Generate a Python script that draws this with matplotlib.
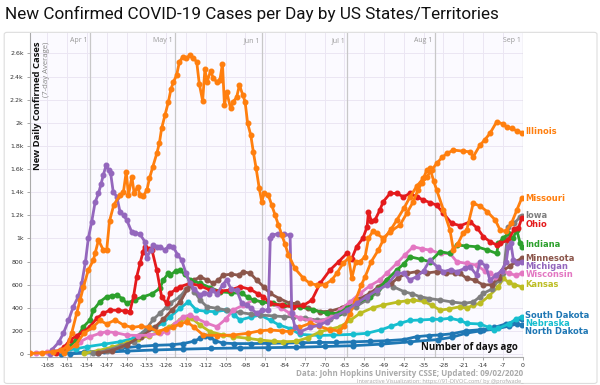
import matplotlib
matplotlib.use("Agg")
import matplotlib.pyplot as plt
from matplotlib.patches import FancyBboxPatch

# ---------------- data (days ago, 7-day avg new cases) ----------------
il_d = [-174, -170, -166, -163, -161, -159.4, -157.6, -156.4, -155.2, -153.5, -151.7, -151.1, -149.9, -148.2, -147,
        -146, -144.5, -142.3, -141.1, -140.1, -139.3, -138.1, -137.3, -136.1, -135.2, -134, -132.8, -131.9, -130.7,
        -129.3, -128.4, -127.6, -126.4, -125.2, -124.3, -123.4, -122.3, -121.3, -120.1, -118.9, -117.6, -116.4,
        -115.2, -114.3, -113.1, -112.3, -111.5, -110.3, -109.3, -108.1, -107, -106.1, -105.4, -104.6, -103.2,
        -102.3, -101.1, -100.1, -98.9, -98.1, -97.2, -96.1, -95.2, -94.2, -93.1, -92.2, -91.4, -89.9, -88.7, -87.5,
        -86.3, -85.1, -84, -82.8, -80.5, -77.5, -75.2, -72.8, -70, -67.5, -65.7, -63.5, -61.5, -60.4, -59, -57.5,
        -55.7, -54.5, -53, -51.6, -49.3, -46.9, -43.4, -41, -38.7, -37, -35.7, -33.9, -32.2, -30.4, -28.5, -26.8,
        -24.5, -21, -18.6, -17.5, -15.1, -13.5, -11.6, -9.2, -7, -5.5, -3.9, -2, -0.4]
il_v = [5, 10, 20, 35, 63, 179, 352, 467, 582, 726, 813, 870, 986, 899, 900,
        1150, 1290, 1375, 1400, 1577, 1375, 1533, 1390, 1447, 1375, 1369, 1418, 1519, 1620,
        1735, 1822, 1951, 2067, 2182, 2290, 2355, 2412, 2528, 2571, 2557, 2585, 2560,
        2528, 2340, 2190, 2462, 2355, 2450, 2384, 2355, 2370, 2513, 2153, 2268, 2124,
        2182, 2220, 2326, 2240, 2182, 1995, 1894, 1749, 1606, 1433, 1317, 1389, 1375, 1288, 1202,
        1115, 1029, 950, 860, 740, 655, 611, 597, 600, 640, 698, 784, 830, 655, 800, 800,
        841, 1000, 1060, 1043, 1000, 1058, 1115, 1216, 1317, 1420, 1480, 1533, 1591, 1649, 1700, 1735,
        1764, 1755, 1749, 1706, 1807, 1850, 1908, 2009, 1990, 1960, 1951, 1930, 1914]

mo_d = [-162, -158, -155, -152, -149.4, -147, -144, -141, -138, -135, -132, -128.9, -126, -123.5, -121, -118.7,
        -116, -112.9, -108, -102.3, -97, -93, -89.3, -85, -82.2, -79, -75.2, -72, -68, -65, -63, -61, -59, -57,
        -55.7, -53.5, -51, -49.3, -46.5, -44.5, -42, -39.8, -37.5, -35.1, -33.9, -32.8, -31.5, -30.4, -28, -25.7,
        -24.5, -23, -21, -19.8, -17.5, -15, -12.5, -9.7, -8, -6, -4, -2, -0.4]
mo_v = [10, 80, 180, 230, 290, 260, 294, 250, 230, 240, 230, 193, 220, 236, 260, 279,
        230, 164, 160, 164, 180, 200, 208, 200, 193, 230, 265, 240, 210, 200, 240, 350, 470, 600,
        668, 800, 900, 986, 1080, 1159, 1260, 1360, 1450, 1520, 1591, 1606, 1500, 1418, 1245, 1072,
        899, 950, 1050, 1072, 1303, 1280, 1230, 1159, 1072, 1060, 1130, 1250, 1346]

mi_d = [-167, -166.4, -164, -162.3, -160.5, -158.8, -157, -155.8, -154.5, -153.5, -152.3, -151.1, -149.9, -149,
        -148.2, -147.2, -146.3, -145.6, -144.7, -143.4, -142.3, -141, -139.9, -138.2, -137, -135.2, -133.5, -132.9,
        -131.5, -130.5, -129.3, -128.2, -126.5, -125, -123.5, -122, -120.5, -119, -117.6, -116, -114, -112.5, -111,
        -109.9, -108, -106, -104.6, -103, -101, -99.3, -97.5, -96, -94, -92, -89.9, -89.2, -88.7, -86.5, -84.5,
        -82.2, -81.6, -80.5, -78.7, -75, -72, -69.3, -66, -62.2, -58.7, -55.1, -51.5, -48.1, -44.5, -42, -40,
        -37.5, -35, -32.8, -30, -28, -25.5, -23.3, -20.5, -18.6, -16.3, -15.1, -13, -11.6, -9.5, -7.5, -5.8, -5.1,
        -4.2, -3.3, -2, -0.4]
mi_v = [0, 35, 100, 179, 290, 409, 500, 611, 800, 1000, 1144, 1312, 1389, 1470,
        1548, 1634, 1590, 1562, 1403, 1360, 1230, 1200, 1159, 1058, 1050, 1035, 971, 827,
        900, 943, 930, 928, 900, 935, 928, 860, 813, 700, 611, 560, 510, 530, 520,
        553, 520, 600, 640, 560, 550, 438, 420, 395, 352, 380, 380, 1000, 1029, 1040, 1035,
        1029, 352, 236, 193, 230, 250, 279, 330, 380, 438, 496, 550, 597, 698, 700, 640,
        668, 720, 813, 750, 712, 730, 712, 740, 755, 683, 798, 760, 640, 680, 720, 800, 928,
        960, 813, 790, 798]

in_d = [-162, -158, -155.2, -152.9, -151.7, -149.4, -147, -145, -143.5, -141.5, -140, -137, -134, -131, -128.2,
        -127, -125.2, -124.6, -122.5, -121.1, -119.5, -117.6, -114, -110.5, -106.9, -103, -99.3, -97, -95.1, -92,
        -88.1, -84.5, -81, -78.7, -74, -69.3, -65, -62, -58.7, -54, -51, -48.1, -44.5, -42, -39.8, -36, -32.8,
        -29.2, -25.7, -23.3, -20, -16.3, -12.5, -9.2, -8.6, -7, -5.1, -3.5, -2.1, -0.9, -0.3]
in_v = [20, 120, 236, 294, 380, 452, 496, 505, 510, 480, 438, 470, 496, 520, 568,
        640, 698, 683, 720, 726, 690, 640, 611, 575, 539, 530, 525, 490, 467, 450,
        438, 420, 409, 409, 380, 352, 352, 400, 438, 496, 560, 640, 726, 780, 841, 820, 798,
        885, 870, 943, 935, 928, 900, 870, 957, 1000, 1043, 1000, 1072, 957, 928]

oh_d = [-165, -162, -160, -157.5, -155.2, -152.9, -150.5, -148.2, -145.8, -143, -140.5, -138.8, -137.5, -136.4,
        -135.2, -134.2, -133.5, -132.2, -131, -129.3, -127.6, -125.8, -124.6, -122.5, -121.1, -117.6, -114, -110.5,
        -107, -103.4, -99.9, -96.3, -93.5, -91.6, -89.3, -85, -81, -77.5, -74.5, -71.6, -68.1, -65, -62.2, -60.5,
        -58.7, -56.5, -55, -54.5, -53.5, -52.2, -50.5, -49.3, -46.9, -44.5, -42.2, -39.8, -37.5, -35.1, -32.8,
        -30.4, -28, -25.1, -22, -18.6, -16, -13.9, -11.5, -9.2, -8, -5.1, -3, -1.5, -0.4]
oh_v = [10, 60, 121, 160, 193, 236, 309, 352, 380, 378, 372, 366, 500, 668,
        784, 880, 928, 910, 899, 726, 496, 438, 525, 560, 582, 611, 590, 553,
        545, 553, 582, 560, 520, 496, 438, 420, 409, 420, 467, 611, 726, 800, 870, 820,
        928, 1000, 1100, 1230, 1150, 1159, 1245, 1317, 1389, 1390, 1360, 1389, 1360, 1332, 1310,
        1288, 1216, 1130, 1110, 1144, 1087, 1014, 971, 943, 957, 986, 1080, 1090, 1173]

ia_d = [-152, -147, -142, -137.5, -135.2, -132.9, -130.5, -128.2, -125.8, -124.6, -121.1, -119, -117.6, -116, -114,
        -111.6, -108, -104.6, -100, -96, -92.8, -88, -84.5, -81, -77, -72.8, -68, -63.3, -59, -55.1, -51.5, -48.1,
        -45.7, -42, -39, -36.3, -33, -29.2, -25, -20.9, -17.5, -15.1, -13.9, -11, -8.5, -6.8, -5.1, -3, -0.9, -0.3]
ia_v = [5, 30, 70, 106, 164, 222, 300, 352, 409, 438, 496, 560, 597, 540, 467,
        409, 395, 380, 360, 345, 337, 330, 323, 323, 310, 294, 300, 352, 410, 467, 530, 611,
        582, 540, 520, 496, 480, 467, 450, 438, 450, 496, 525, 560, 640, 698, 1101, 1130, 1187, 1193]

mn_d = [-150, -145, -140, -135, -130, -127, -124, -121, -118.5, -116, -114, -111.5, -109.3, -107.5, -105.8, -103,
        -100.4, -98.7, -96.3, -94, -91.5, -89.3, -86, -82.2, -79.9, -76, -71.6, -68, -64, -61, -57.5, -54, -51,
        -48.1, -46.5, -44, -41, -37.5, -34, -30.4, -27, -24, -22.2, -19.8, -17, -13.9, -11, -8.5, -6.8, -4.5, -2.5,
        -0.4]
mn_v = [5, 30, 80, 150, 230, 300, 380, 450, 560, 640, 668, 640, 611, 640, 683, 690,
        683, 712, 698, 640, 580, 525, 480, 438, 438, 400, 366, 370, 400, 438, 480, 525, 580,
        640, 610, 660, 698, 712, 700, 712, 700, 700, 698, 655, 640, 597, 600, 660, 726, 760, 800,
        827]

wi_d = [-172, -168, -163.4, -160, -156.4, -152.9, -149.4, -147, -144, -140, -136, -132, -128, -125.8, -123, -119.9,
        -117.6, -115.3, -112, -108.1, -105, -102.3, -98.7, -95.1, -92, -89.3, -85.5, -82.2, -78.7, -75, -71.6, -68,
        -64.6, -61, -57.5, -54, -50.5, -48.1, -44.5, -41.5, -38.7, -35.5, -32.8, -29, -25.7, -23.3, -19.8, -16.3,
        -13.5, -11.6, -9.7, -7.5, -5, -2.5, -0.4]
wi_v = [5, 15, 35, 70, 106, 150, 179, 193, 185, 164, 160, 164, 180, 193, 260, 323,
        337, 309, 270, 236, 300, 380, 424, 467, 450, 438, 400, 352, 309, 290, 279, 320,
        380, 450, 525, 590, 640, 698, 784, 860, 928, 910, 899, 870, 870, 798, 784, 769,
        720, 698, 668, 720, 700, 680, 698]

ks_d = [-155, -150, -145, -140, -136, -132, -128.2, -125, -121.1, -118.5, -116.9, -114, -110.5, -106, -102.3, -97,
        -92.8, -88, -84.6, -80, -76, -71.6, -68, -64.6, -61, -57.5, -53, -49.3, -44, -41, -38.7, -35, -32, -29.2,
        -26, -22, -19.8, -17.5, -15.1, -12, -8.6, -6.8, -5, -3, -0.4]
ks_v = [5, 30, 60, 95, 130, 160, 193, 230, 294, 305, 309, 250, 193, 165, 150, 135,
        121, 110, 106, 110, 140, 193, 215, 236, 290, 352, 400, 424, 450, 460, 467, 455, 420, 380,
        390, 410, 395, 424, 438, 500, 582, 655, 620, 600, 582]

ne_d = [-167, -162, -158, -154, -148, -142.3, -137.5, -134, -130.5, -127, -124.6, -121.1, -118.1, -115.3, -112,
        -108.7, -105, -102, -99.9, -96, -92.8, -89, -86, -82.2, -78.7, -72, -66.9, -60, -55.1, -50, -46.5, -43.4,
        -40, -36.3, -32, -29.2, -25.7, -22, -19.8, -15.1, -12, -10.3, -8.6, -5, -2.5, -0.4]
ne_v = [5, 25, 45, 63, 85, 106, 136, 180, 222, 270, 323, 395, 452, 380, 370,
        366, 380, 340, 294, 320, 337, 290, 250, 220, 170, 160, 164, 170, 179, 210, 240, 265,
        290, 294, 300, 300, 309, 290, 265, 260, 230, 208, 222, 260, 300, 323]

sd_d = [-163, -155, -148, -142, -136, -130, -124, -120, -116.3, -114, -112.3, -110.5, -108.8, -106, -102, -96, -90,
        -84, -78, -72, -66, -60, -54, -48, -42, -37.5, -33, -29.2, -25, -20, -15, -13.9, -10, -6, -3, -0.4]
sd_v = [2, 15, 30, 50, 65, 75, 80, 90, 110, 135, 152, 150, 115, 95, 90, 90, 92,
        95, 98, 100, 100, 105, 110, 115, 125, 150, 160, 165, 175, 200, 210, 208, 230, 260, 280, 300]

nd_d = [-160, -150, -140, -130, -120, -110, -100, -90, -80, -70, -60, -50, -40, -30, -25, -20, -15, -10, -5, -2,
        -0.4]
nd_v = [2, 12, 25, 35, 42, 48, 52, 55, 58, 65, 72, 85, 105, 125, 145, 180, 200, 215, 240, 260, 251]

# label name, days, values, colour, label value position
series = [
    ("North Dakota", nd_d, nd_v, "#1f77b4", 196),
    ("South Dakota", sd_d, sd_v, "#1f77b4", 333),
    ("Nebraska", ne_d, ne_v, "#17becf", 265),
    ("Kansas", ks_d, ks_v, "#bcbd22", 597),
    ("Iowa", ia_d, ia_v, "#7f7f7f", 1197),
    ("Minnesota", mn_d, mn_v, "#8c564b", 826),
    ("Wisconsin", wi_d, wi_v, "#e377c2", 688),
    ("Indiana", in_d, in_v, "#2ca02c", 943),
    ("Ohio", oh_d, oh_v, "#e41a1c", 1120),
    ("Missouri", mo_d, mo_v, "#ff7f0e", 1349),
    ("Michigan", mi_d, mi_v, "#9467bd", 757),
    ("Illinois", il_d, il_v, "#ff7f0e", 1928),
]

x_ticks = list(range(-168, 1, 7))
y_ticks = list(range(0, 2601, 200))
y_tick_labels = ["0", "200", "400", "600", "800", "1k", "1.2k", "1.4k", "1.6k", "1.8k", "2k", "2.2k", "2.4k", "2.6k"]
months = ["Apr 1", "May 1", "Jun 1", "Jul 1", "Aug 1", "Sep 1"]
month_days = [-153, -123, -92, -62, -31, 0]

# ---------------- figure ----------------
fig = plt.figure(figsize=(6.0, 3.85), dpi=100)
fig.patch.set_facecolor("white")
ax = fig.add_axes([0.05, 0.0727, 0.8217, 0.8413])
ax.set_facecolor("#fbfaff")
ax.set_xlim(-174.1, 0.1)
ax.set_ylim(-26, 2776)

for t in x_ticks:
    ax.axvline(t, color="#ebe6f3", lw=0.7, zorder=0)
for t in y_ticks:
    ax.axhline(t, color="#ebe6f3", lw=0.7, zorder=0)
for md in month_days:
    ax.axvline(md, color="#c8c8c8", lw=0.9, zorder=0.5)

for name, d, v, c, lab in series:
    ax.plot(d, v, color=c, lw=2.0, marker="o", ms=3.3, mec=c, mfc=c, zorder=3, solid_capstyle="round")
    ax.text(0.9, lab, name, color=c, fontsize=6.0, fontweight="bold", family="DejaVu Sans",
            ha="left", va="center", clip_on=False)

for m, md in zip(months, month_days):
    ax.text(md - 0.8, 2708, m, color="#999999", fontsize=5, ha="right", va="center", family="Open Sans")

ax.set_xticks(x_ticks)
ax.set_xticklabels([str(t) for t in x_ticks])
ax.set_yticks(y_ticks)
ax.set_yticklabels(y_tick_labels)
ax.tick_params(axis="both", labelsize=4.5, colors="#333333", length=2.5, width=0.6, pad=2)
ax.tick_params(axis="both", color="#999999")
for s in ["top", "right"]:
    ax.spines[s].set_visible(False)
for s in ["left", "bottom"]:
    ax.spines[s].set_color("#aaaaaa")
    ax.spines[s].set_linewidth(0.8)

ax.text(-171.6, 2700, "New Daily Confirmed Cases", rotation=90, ha="center", va="top",
        fontsize=6.8, fontweight="bold", color="#111111", family="Open Sans")
ax.text(-168.4, 2700, "(7-day Average)", rotation=90, ha="center", va="top",
        fontsize=5.6, color="#888888", family="Open Sans")
ax.text(-1.6, 60, "Number of days ago", ha="right", va="center", fontsize=7.0,
        fontweight="bold", color="#111111", family="Open Sans", zorder=5)

fig.text(0.008, 0.963, "New Confirmed COVID-19 Cases per Day by US States/Territories",
         fontsize=12.3, family="Roboto", color="#111111", ha="left", va="center")
fig.text(0.872, 0.031, "Data: John Hopkins University CSSE; Updated: 09/02/2020",
         fontsize=5.8, fontweight="bold", color="#aaaaaa", ha="right", va="center", family="Open Sans")
fig.text(0.872, 0.010, "Interactive Visualization: https://91-DIVOC.com/ by @profwade_",
         fontsize=4.1, color="#aaaaaa", ha="right", va="center", family="Open Sans")

box = FancyBboxPatch((0.007, 0.004), 0.988, 0.912, boxstyle="round,pad=0,rounding_size=0.005",
                     transform=fig.transFigure, facecolor="none", edgecolor="#dddddd", lw=0.8)
fig.patches.append(box)

fig.savefig("out.png", dpi=100)
